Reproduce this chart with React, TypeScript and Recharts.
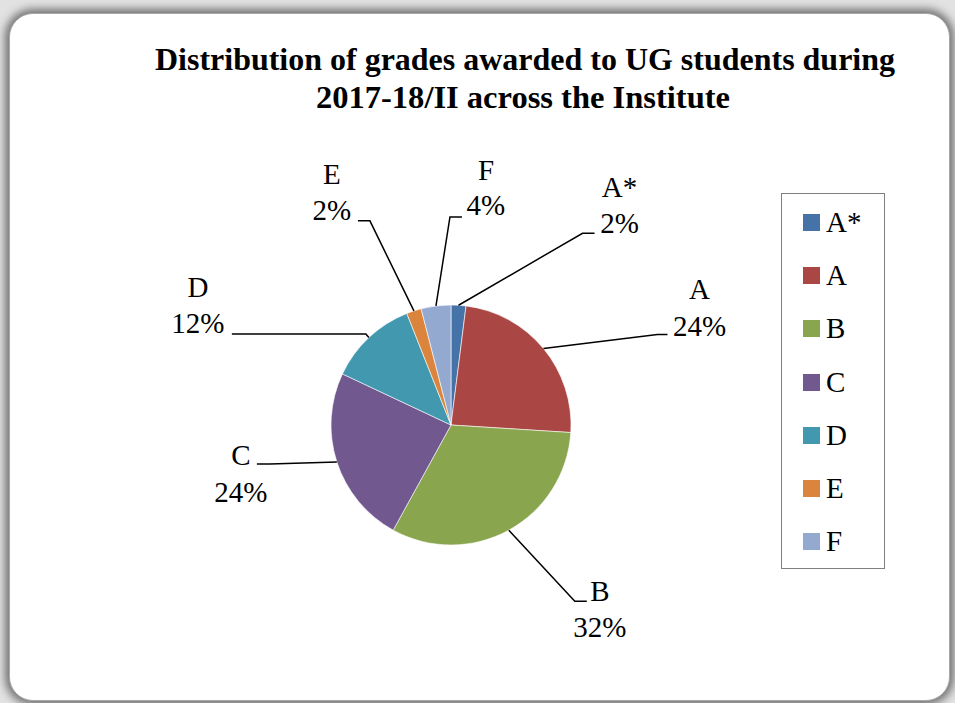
import { PieChart, Pie, Cell, Legend } from 'recharts';

const GRADES = ['A*', 'A', 'B', 'C', 'D', 'E', 'F'];
const SHARES = [2, 24, 32, 24, 12, 2, 4];
const TITLE_LINES = [
  'Distribution of grades awarded to UG students during',
  '2017-18/II across the Institute',
];

const COLORS = ['#4572A7', '#AA4643', '#89A54E', '#71588F', '#4198AF', '#DB843D', '#93A9CF'];

// leader line layout per slice: elbow offset from slice edge, stub length, text centre, baselines
const LEADERS = [
  { ex: 124, ey: -72, stub: 12, tx: 25, nameY: -36, valY: 0 },
  { ex: 114, ey: -14, stub: 10, tx: 32, nameY: -36, valY: 1 },
  { ex: 66, ey: 71, stub: 12, tx: 13, nameY: 0, valY: 36 },
  { ex: -67, ey: 2, stub: -13, tx: -16, nameY: 1, valY: 38 },
  { ex: -3, ey: -3.5, stub: -134, tx: -34, nameY: -37, valY: -1 },
  { ex: -44, ey: -90, stub: -12, tx: -26, nameY: -37, valY: -1 },
  { ex: 14, ey: -89, stub: 12, tx: 24, nameY: -37, valY: -2 },
];

const data = GRADES.map((name, i) => ({ name, value: SHARES[i] }));

const RADIAN = Math.PI / 180;
const FONT = "'Liberation Serif', 'Times New Roman', serif";

const renderLabel = (props: any) => {
  const { cx, cy, midAngle, outerRadius, index, name, percent } = props;
  const l = LEADERS[index];
  const x0 = cx + outerRadius * Math.cos(-midAngle * RADIAN);
  const y0 = cy + outerRadius * Math.sin(-midAngle * RADIAN);
  const x1 = x0 + l.ex;
  const y1 = y0 + l.ey;
  const x2 = x1 + l.stub;
  const tx = x2 + l.tx;
  return (
    <g>
      <polyline
        points={`${x0},${y0} ${x1},${y1} ${x2},${y1}`}
        fill="none"
        stroke="#000"
        strokeWidth={1.5}
      />
      <text x={tx} y={y1 + l.nameY} textAnchor="middle" style={{ fontFamily: FONT, fontSize: 29 }} fill="#000">
        {name}
      </text>
      <text x={tx} y={y1 + l.valY} textAnchor="middle" style={{ fontFamily: FONT, fontSize: 29 }} fill="#000">
        {`${Math.round(percent * 100)}%`}
      </text>
    </g>
  );
};

const renderLegend = () => (
  <div
    style={{
      width: 102,
      height: 372,
      border: '1px solid #7f7f7f',
      background: '#fff',
      paddingTop: 1.5,
      boxSizing: 'content-box',
    }}
  >
    {GRADES.map((g, i) => (
      <div key={g} style={{ height: 53.3, display: 'flex', alignItems: 'center' }}>
        <span
          style={{
            display: 'inline-block',
            width: 17,
            height: 17,
            marginLeft: 21,
            background: COLORS[i],
          }}
        />
        <span style={{ marginLeft: 6, fontFamily: FONT, fontSize: 29, color: '#000', lineHeight: 1 }}>{g}</span>
      </div>
    ))}
  </div>
);

export default function App() {
  return (
    <div style={{ position: 'fixed', left: 0, top: 0, width: 955, height: 703, background: '#e2e2e2', overflow: 'hidden' }}>
      <div
        style={{
          position: 'absolute',
          left: 9,
          top: 13,
          width: 941,
          height: 688,
          background: '#fff',
          borderRadius: 24,
          border: '1px solid #a8a8a8',
          boxSizing: 'border-box',
          boxShadow: '0 0 8px 4px rgba(0,0,0,0.5)',
        }}
      />
      <svg width={955} height={703} style={{ position: 'absolute', left: 0, top: 0 }}>
        <text x={525} y={70} textAnchor="middle" style={{ fontFamily: FONT, fontWeight: 'bold', fontSize: 32 }}
          textLength={740} lengthAdjust="spacingAndGlyphs">
          {TITLE_LINES[0]}
        </text>
        <text x={523} y={108} textAnchor="middle" style={{ fontFamily: FONT, fontWeight: 'bold', fontSize: 32 }}
          textLength={414} lengthAdjust="spacingAndGlyphs">
          {TITLE_LINES[1]}
        </text>
      </svg>
      <div style={{ position: 'absolute', left: 0, top: 0 }}>
        <PieChart width={955} height={703} margin={{ top: 0, right: 0, bottom: 0, left: 0 }}>
          <Pie
            data={data}
            dataKey="value"
            nameKey="name"
            cx={451}
            cy={425}
            outerRadius={120}
            startAngle={90}
            endAngle={-270}
            stroke="#fff"
            strokeWidth={0.6}
            label={renderLabel}
            labelLine={false}
            isAnimationActive={false}
          >
            {data.map((d, i) => (
              <Cell key={d.name} fill={COLORS[i]} />
            ))}
          </Pie>
          <Legend
            layout="vertical"
            align="right"
            verticalAlign="middle"
            content={renderLegend}
            wrapperStyle={{ position: 'absolute', left: 781, top: 193, width: 104, height: 375 }}
          />
        </PieChart>
      </div>
    </div>
  );
}
